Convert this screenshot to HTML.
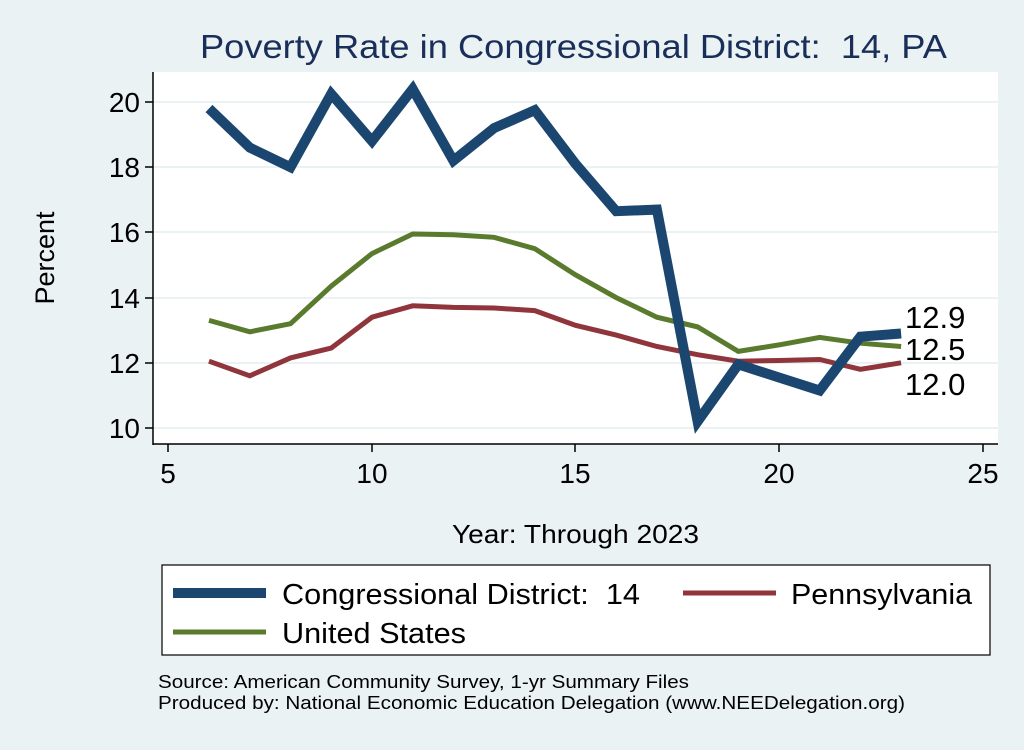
<!DOCTYPE html>
<html><head><style>body{margin:0;background:#eaf2f3}</style></head><body>
<svg width="1024" height="745" xmlns="http://www.w3.org/2000/svg" font-family="Liberation Sans, sans-serif">
<rect width="1024" height="745" fill="#eaf2f3"/>
<rect x="153" y="72" width="845" height="372" fill="#fff"/>
<g stroke="#eaf2f3" stroke-width="2">
<line x1="153" x2="998" y1="102" y2="102"/><line x1="153" x2="998" y1="167" y2="167"/><line x1="153" x2="998" y1="232" y2="232"/><line x1="153" x2="998" y1="298" y2="298"/><line x1="153" x2="998" y1="363" y2="363"/><line x1="153" x2="998" y1="428" y2="428"/>
</g>
<g stroke="#000" stroke-width="1.5">
<line x1="153" y1="72" x2="153" y2="445"/><line x1="153" y1="444" x2="998" y2="444"/>
<line x1="145" x2="153" y1="102" y2="102"/><line x1="145" x2="153" y1="167" y2="167"/><line x1="145" x2="153" y1="232" y2="232"/><line x1="145" x2="153" y1="298" y2="298"/><line x1="145" x2="153" y1="363" y2="363"/><line x1="145" x2="153" y1="428" y2="428"/>
<line x1="168" x2="168" y1="444" y2="452"/><line x1="372" x2="372" y1="444" y2="452"/><line x1="575" x2="575" y1="444" y2="452"/><line x1="779" x2="779" y1="444" y2="452"/><line x1="983" x2="983" y1="444" y2="452"/>
</g>
<g font-size="28" text-anchor="end">
<text x="140" y="112">20</text><text x="140" y="177">18</text><text x="140" y="242">16</text><text x="140" y="308">14</text><text x="140" y="373">12</text><text x="140" y="438">10</text>
</g>
<g font-size="28" text-anchor="middle">
<text x="168" y="483">5</text><text x="372" y="483">10</text><text x="575" y="483">15</text><text x="779" y="483">20</text><text x="983" y="483">25</text>
</g>
<text x="200" y="58" font-size="33" fill="#1a2e5a" textLength="747" lengthAdjust="spacingAndGlyphs">Poverty Rate in Congressional District:&#160; 14, PA</text>
<text transform="translate(54,258) rotate(-90)" font-size="27" text-anchor="middle">Percent</text>
<text x="452" y="543" font-size="26" textLength="247" lengthAdjust="spacingAndGlyphs">Year: Through 2023</text>
<g fill="none" stroke-linejoin="miter">
<polyline stroke="#5a7a2e" stroke-width="5" points="209,320.4 249.8,331.8 290.5,323.7 331.2,286.2 372,253.6 412.7,234 453.4,234.7 494.1,237.3 534.8,248.7 575.5,274.8 616.2,297.6 656.9,317.2 697.6,326.9 738.3,351.4 779,344.9 819.7,337.4 860.4,343.2 901.1,346.5"/>
<polyline stroke="#90353b" stroke-width="5" points="209,361.2 249.8,375.8 290.5,357.9 331.2,348.1 372,317.2 412.7,305.8 453.4,307.4 494.1,308 534.8,310.6 575.5,325.3 616.2,335.1 656.9,346.5 697.6,354.7 738.3,361.2 779,360.5 819.7,359.5 860.4,369.3 901.1,362.8"/>
<polyline stroke="#1a4670" stroke-width="10" points="209,108.5 249.8,147.6 290.5,167.2 331.2,93.9 372,141.1 412.7,89 453.4,160.7 494.1,128.1 534.8,110.2 575.5,163.9 616.2,211.2 656.9,209.6 697.6,421.5 738.3,364.4 779,377.5 819.7,390.5 860.4,336.7 901.1,333.5"/>
</g>
<g font-size="31">
<text x="905" y="328">12.9</text><text x="905" y="360">12.5</text><text x="905" y="395">12.0</text>
</g>
<rect x="162" y="565" width="828" height="90" fill="#fff" stroke="#000" stroke-width="1.2"/>
<line x1="173" x2="266" y1="593" y2="593" stroke="#1a4670" stroke-width="10"/>
<line x1="683" x2="776" y1="593" y2="593" stroke="#90353b" stroke-width="5"/>
<line x1="173" x2="266" y1="632" y2="632" stroke="#5a7a2e" stroke-width="5"/>
<g font-size="29" lengthAdjust="spacingAndGlyphs">
<text x="282" y="604" textLength="358" lengthAdjust="spacingAndGlyphs">Congressional District:&#160; 14</text>
<text x="791" y="604" textLength="181" lengthAdjust="spacingAndGlyphs">Pennsylvania</text>
<text x="282" y="643" textLength="184" lengthAdjust="spacingAndGlyphs">United States</text>
</g>
<g font-size="18.5">
<text x="158" y="688" textLength="531" lengthAdjust="spacingAndGlyphs">Source: American Community Survey, 1-yr Summary Files</text>
<text x="158" y="709" textLength="747" lengthAdjust="spacingAndGlyphs">Produced by: National Economic Education Delegation (www.NEEDelegation.org)</text>
</g>
</svg>
</body></html>
